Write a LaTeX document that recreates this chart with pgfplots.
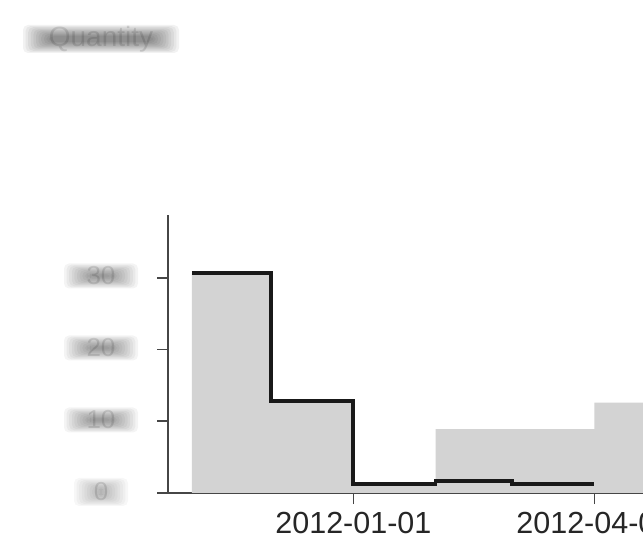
\documentclass[border=0pt]{standalone}
\usepackage{pgfplots}
\pgfplotsset{compat=1.18}
\usepackage{fontspec}
\setmainfont{Liberation Sans}

\definecolor{fillgray}{RGB}{211,211,211}
\definecolor{axisgray}{RGB}{70,70,70}

% soft, smeared label: stacked faint rounded boxes under one faint text
% #1,#2 centre; #3,#4 half width/height; #5 layer opacity; #6 font size; #7 text
\newcommand{\smear}[7]{%
  \foreach \k in {0,...,10}{%
    \fill[black, opacity=#5, rounded corners=5bp]
      (#1bp-#3bp+\k*2.6bp, #2bp-#4bp+\k*1.1bp) rectangle
      (#1bp+#3bp-\k*2.6bp, #2bp+#4bp-\k*1.1bp);
  }%
  \node[text=black, opacity=0.12, inner sep=0pt,
        font=\fontsize{#6}{#6}\selectfont] at (#1bp,#2bp) {#7};
}

\begin{document}
\begin{tikzpicture}
\useasboundingbox (0,0) rectangle (643bp,553bp);
\clip (0,0) rectangle (643bp,553bp);

% x positions are days from 2012-01-01, monthly steps
\begin{axis}[
  at={(168bp,60bp)}, anchor=south west,
  scale only axis, width=529.7bp, height=277.5bp,
  xmin=-70, xmax=130, ymin=0, ymax=38.7,
  axis lines=left,
  axis line style={-, line width=1.6bp, draw=axisgray},
  tick style={line width=1.6bp, draw=axisgray},
  tick align=outside, major tick length=11bp,
  xtick={0,91}, xticklabels={2012-01-01,2012-04-01},
  ytick={0,10,20,30}, yticklabels={},
  xticklabel style={inner sep=0pt, yshift=-8bp,
    font=\fontsize{30.5bp}{36bp}\selectfont, text=black!85},
]
% total per month (shaded)
\addplot[const plot, fill=fillgray, draw=none] coordinates {
  (-61,30.7) (-31,12.8) (0,1.2) (31,8.9) (60,8.9) (91,12.6) (121,12.6) (152,12.6)
} \closedcycle;
% monthly series (step line)
\addplot[const plot, draw=black!90, line width=3.8bp, line join=miter] coordinates {
  (-61,30.7) (-31,12.8) (0,1.2) (31,1.7) (60,1.2) (91,1.2)
};
\end{axis}

% title and y tick labels, smeared
\smear{101}{514}{78}{14}{0.05}{28bp}{Quantity}
\smear{101}{277}{37}{12.5}{0.042}{26bp}{30}
\smear{101}{205}{37}{12.5}{0.042}{26bp}{20}
\smear{101}{133}{37}{12.5}{0.042}{26bp}{10}
\smear{101}{61}{27}{14}{0.032}{26bp}{0}
\end{tikzpicture}
\end{document}
